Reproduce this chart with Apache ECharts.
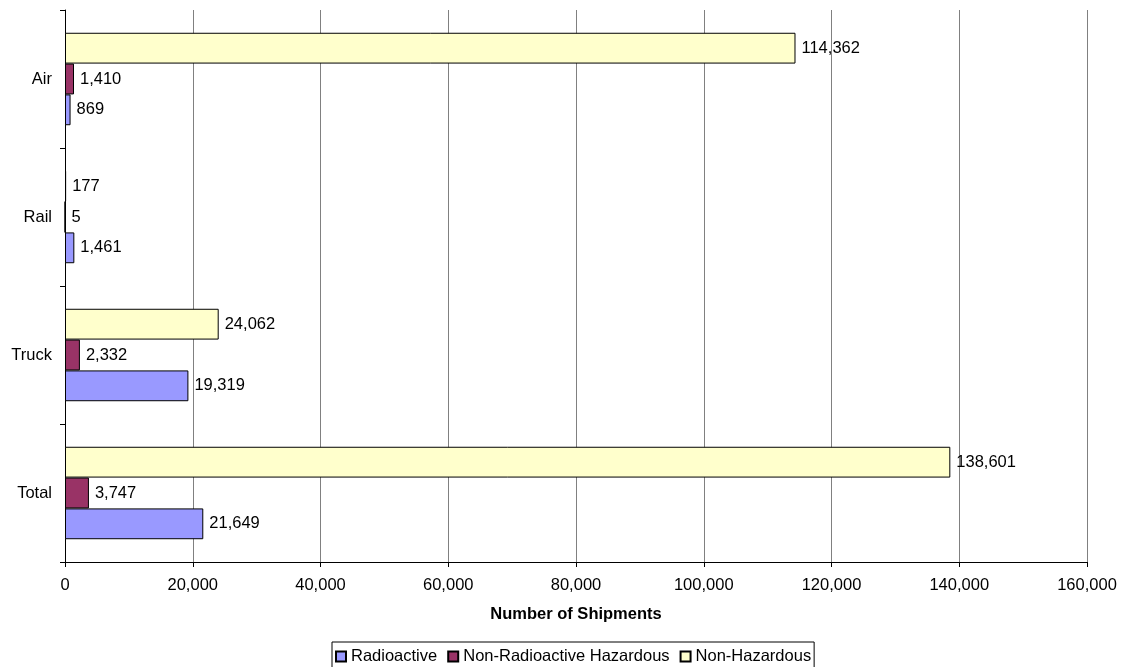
<!DOCTYPE html>
<html>
<head>
<meta charset="utf-8">
<script src="https://cdn.jsdelivr.net/npm/echarts@6/dist/echarts.min.js"></script>
<style>
  html, body { margin: 0; padding: 0; background: #fff; }
  #chart { width: 1122px; height: 667px; }
</style>
</head>
<body>
<div id="chart"></div>
<script>
// Shipment counts by transport mode (category axis runs bottom to top)
const modes = ['Total', 'Truck', 'Rail', 'Air'];
const radioactive = [21649, 19319, 1461, 869];
const nonRadHazardous = [3747, 2332, 5, 1410];
const nonHazardous = [138601, 24062, 177, 114362];
const xTicks = [0, 20000, 40000, 60000, 80000, 100000, 120000, 140000, 160000];

const fmt = v => Number(v).toLocaleString('en-US');
const font = 'Liberation Sans, Arial, sans-serif';
const fs = 16.5;

function barSeries(name, data, color) {
  return {
    name: name,
    type: 'bar',
    data: data,
    barGap: '0%',
    barCategoryGap: '33%',
    itemStyle: { color: color, borderColor: '#000', borderWidth: 1 },
    label: {
      show: true,
      position: 'right',
      distance: 6,
      color: '#000',
      fontFamily: font,
      fontSize: fs,
      formatter: p => fmt(p.value)
    }
  };
}

const chart = echarts.init(document.getElementById('chart'), null, { renderer: 'canvas' });
chart.setOption({
  animation: false,
  backgroundColor: '#fff',
  textStyle: { fontFamily: font },
  grid: { left: 65, right: 35, top: 10, bottom: 105, containLabel: false },
  xAxis: {
    type: 'value',
    min: xTicks[0],
    max: xTicks[xTicks.length - 1],
    interval: 20000,
    name: 'Number of Shipments',
    nameLocation: 'middle',
    nameGap: 44,
    nameTextStyle: { fontFamily: font, fontSize: fs, fontWeight: 'bold', color: '#000' },
    axisLine: { show: true, lineStyle: { color: '#000', width: 1 } },
    axisTick: { show: true, length: 5, lineStyle: { color: '#000' } },
    axisLabel: { color: '#000', fontFamily: font, fontSize: fs, margin: 15, formatter: v => fmt(v) },
    splitLine: { show: true, lineStyle: { color: '#808080', width: 1 } }
  },
  yAxis: {
    type: 'category',
    data: modes,
    axisLine: { show: true, lineStyle: { color: '#000', width: 1 } },
    axisTick: { show: true, length: 5, lineStyle: { color: '#000' } },
    axisLabel: { color: '#000', fontFamily: font, fontSize: fs, margin: 13 },
    splitLine: { show: false }
  },
  legend: {
    top: 642,
    left: 332,
    itemWidth: 10,
    itemHeight: 10,
    itemGap: 10,
    icon: 'rect',
    borderColor: '#000',
    borderWidth: 1,
    padding: [6, 3, 8, 3],
    textStyle: { fontFamily: font, fontSize: fs, color: '#000' },
    data: ['Radioactive', 'Non-Radioactive Hazardous', 'Non-Hazardous']
  },
  // drawn top-to-bottom within each category: Non-Hazardous, Non-Radioactive Hazardous, Radioactive
  series: [
    barSeries('Non-Hazardous', nonHazardous, '#FFFFCC'),
    barSeries('Non-Radioactive Hazardous', nonRadHazardous, '#993366'),
    barSeries('Radioactive', radioactive, '#9999FF')
  ]
});
</script>
</body>
</html>
